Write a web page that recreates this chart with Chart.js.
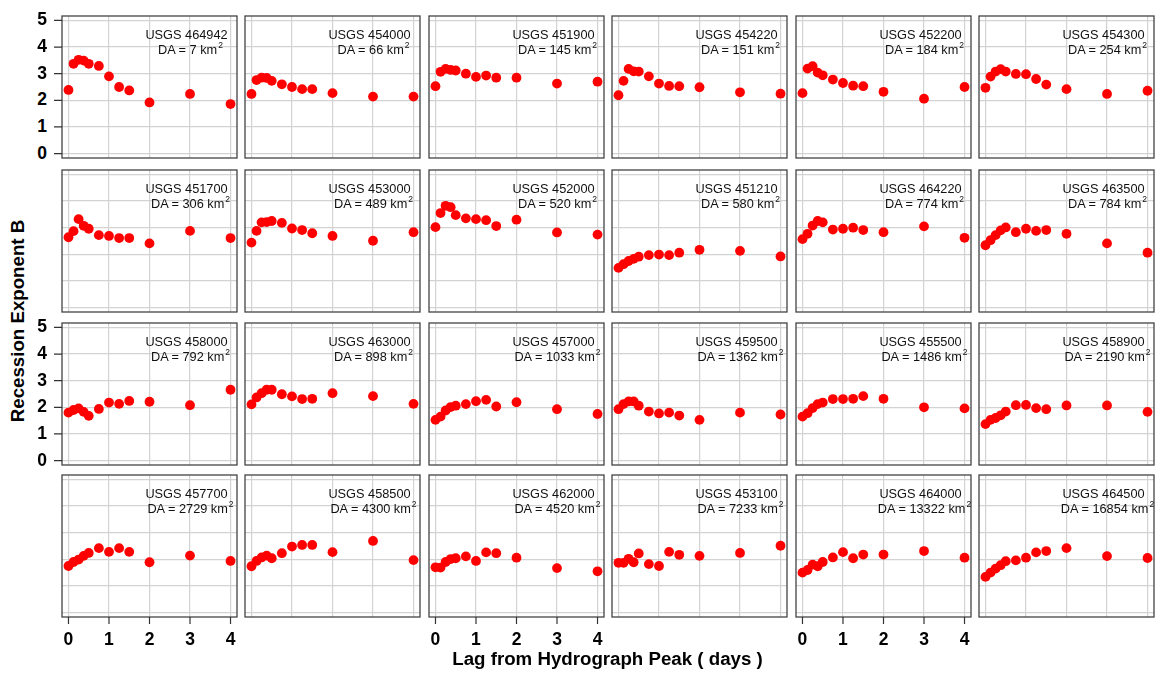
<!DOCTYPE html>
<html>
<head>
<meta charset="utf-8">
<script src="https://cdn.jsdelivr.net/npm/chart.js@4.4.1/dist/chart.umd.min.js"></script>
<style>
  html, body { margin: 0; padding: 0; background: #ffffff; }
  #wrap { position: relative; width: 1160px; height: 677px; overflow: hidden;
          font-family: "Liberation Sans", Arial, Helvetica, sans-serif; }
  #wrap canvas { position: absolute; }
  .lbl { position: absolute; white-space: nowrap; line-height: 1; }
  .tick { font-weight: bold; font-size: 17.5px; color: #000; }
  .title { font-weight: bold; font-size: 18.7px; color: #000; }
  .note { font-size: 12.75px; color: #111; transform: translateX(-50%); }
  .note .sup { font-size: 8.5px; position: relative; top: -5.5px; margin-left: 1px; }
</style>
</head>
<body>
<div id="wrap"></div>
<script>
// Lag after the hydrograph peak (days) at which the exponent was fitted
const lagDays = [0, 0.125, 0.25, 0.375, 0.5, 0.75, 1, 1.25, 1.5, 2, 3, 4];

// Gauge ids and drainage areas (km2), ordered by drainage area
const gaugeIds = ['464942', '454000', '451900', '454220', '452200', '454300',
                  '451700', '453000', '452000', '451210', '464220', '463500',
                  '458000', '463000', '457000', '459500', '455500', '458900',
                  '457700', '458500', '462000', '453100', '464000', '464500'];
const drainageArea = [7, 66, 145, 151, 184, 254,
                      306, 489, 520, 580, 774, 784,
                      792, 898, 1033, 1362, 1486, 2190,
                      2729, 4300, 4520, 7233, 13322, 16854];

// Recession exponent B at each lag, one array per gauge
const b464942 = [2.39, 3.37, 3.52, 3.49, 3.37, 3.29, 2.90, 2.50, 2.37, 1.92, 2.24, 1.86];
const b454000 = [2.24, 2.76, 2.85, 2.84, 2.73, 2.60, 2.50, 2.42, 2.42, 2.27, 2.14, 2.14];
const b451900 = [2.53, 3.07, 3.18, 3.14, 3.12, 3.00, 2.88, 2.93, 2.85, 2.85, 2.63, 2.70];
const b454220 = [2.19, 2.73, 3.18, 3.09, 3.08, 2.90, 2.63, 2.54, 2.53, 2.49, 2.30, 2.25];
const b452200 = [2.27, 3.19, 3.28, 3.04, 2.94, 2.78, 2.65, 2.55, 2.53, 2.32, 2.06, 2.50];
const b454300 = [2.47, 2.89, 3.08, 3.17, 3.08, 2.99, 2.98, 2.80, 2.59, 2.42, 2.24, 2.36];
const b451700 = [2.64, 2.87, 3.32, 3.07, 2.96, 2.72, 2.69, 2.61, 2.61, 2.41, 2.88, 2.61];
const b453000 = [2.44, 2.88, 3.20, 3.21, 3.25, 3.18, 2.97, 2.91, 2.79, 2.69, 2.51, 2.83];
const b452000 = [3.02, 3.55, 3.82, 3.77, 3.47, 3.35, 3.32, 3.28, 3.06, 3.30, 2.82, 2.74];
const b451210 = [1.49, 1.63, 1.75, 1.83, 1.91, 1.97, 1.99, 1.97, 2.06, 2.17, 2.13, 1.92];
const b464220 = [2.57, 2.77, 3.08, 3.25, 3.20, 2.93, 2.96, 3.00, 2.91, 2.83, 3.05, 2.62];
const b463500 = [2.34, 2.53, 2.72, 2.90, 3.01, 2.83, 2.96, 2.88, 2.91, 2.77, 2.41, 2.06];
const b458000 = [1.80, 1.90, 1.96, 1.83, 1.68, 1.94, 2.18, 2.13, 2.24, 2.21, 2.08, 2.66];
const b463000 = [2.11, 2.37, 2.53, 2.66, 2.66, 2.49, 2.41, 2.31, 2.32, 2.53, 2.42, 2.13];
const b457000 = [1.53, 1.65, 1.88, 2.01, 2.06, 2.12, 2.23, 2.28, 2.03, 2.19, 1.93, 1.75];
const b459500 = [1.93, 2.12, 2.22, 2.22, 2.06, 1.84, 1.77, 1.80, 1.69, 1.53, 1.80, 1.73];
const b455500 = [1.65, 1.78, 1.97, 2.12, 2.18, 2.31, 2.31, 2.32, 2.42, 2.32, 2.00, 1.96];
const b458900 = [1.37, 1.53, 1.60, 1.70, 1.84, 2.08, 2.09, 1.97, 1.93, 2.07, 2.07, 1.83];
const b457700 = [1.75, 1.90, 1.99, 2.13, 2.24, 2.42, 2.28, 2.42, 2.28, 1.89, 2.14, 1.94];
const b458500 = [1.74, 1.94, 2.07, 2.14, 2.04, 2.23, 2.48, 2.54, 2.54, 2.27, 2.69, 1.97];
const b462000 = [1.70, 1.69, 1.90, 2.01, 2.04, 2.11, 1.94, 2.26, 2.23, 2.06, 1.67, 1.55];
const b453100 = [1.87, 1.87, 2.02, 1.89, 2.22, 1.82, 1.75, 2.28, 2.17, 2.13, 2.24, 2.51];
const b464000 = [1.50, 1.60, 1.80, 1.74, 1.90, 2.07, 2.27, 2.04, 2.18, 2.18, 2.31, 2.06];
const b464500 = [1.34, 1.50, 1.65, 1.78, 1.93, 1.96, 2.06, 2.26, 2.31, 2.42, 2.12, 2.05];

const exponentB = [b464942, b454000, b451900, b454220, b452200, b454300,
                   b451700, b453000, b452000, b451210, b464220, b463500,
                   b458000, b463000, b457000, b459500, b455500, b458900,
                   b457700, b458500, b462000, b453100, b464000, b464500];

// Axis ticks
const xTickValues = [0, 1, 2, 3, 4];
const yTickValues = [0, 1, 2, 3, 4, 5];

// Panel grid geometry
const colLeft = [62, 245, 429, 612, 796, 979];
const rowTop = [16, 170, 323, 475];
const boxW = 175, boxH = 142, pad = 10;

const wrap = document.getElementById('wrap');

function addLabel(cls, html, left, top, transform) {
  const d = document.createElement('div');
  d.className = 'lbl ' + cls;
  d.innerHTML = html;
  d.style.left = left + 'px';
  d.style.top = top + 'px';
  if (transform) d.style.transform = transform;
  wrap.appendChild(d);
  return d;
}

// Frame, tick marks drawn around each panel's plotting area
const panelFrame = {
  id: 'panelFrame',
  afterDraw(chart, args, opts) {
    const { ctx, chartArea: a, scales } = chart;
    ctx.save();
    ctx.strokeStyle = '#444444';
    ctx.lineWidth = 1.3;
    ctx.strokeRect(a.left, a.top, a.right - a.left, a.bottom - a.top);
    ctx.strokeStyle = '#333333';
    ctx.lineWidth = 1.2;
    ctx.beginPath();
    if (opts.yTicks) {
      yTickValues.forEach(v => {
        const p = scales.y.getPixelForValue(v);
        ctx.moveTo(a.left - 8, p);
        ctx.lineTo(a.left, p);
      });
    }
    if (opts.xTicks) {
      xTickValues.forEach(v => {
        const p = scales.x.getPixelForValue(v);
        ctx.moveTo(p, a.bottom);
        ctx.lineTo(p, a.bottom + 7);
      });
    }
    ctx.stroke();
    ctx.restore();
  }
};

gaugeIds.forEach((id, i) => {
  const r = Math.floor(i / 6), c = i % 6;
  const left = colLeft[c] - pad, top = rowTop[r] - pad;
  const cv = document.createElement('canvas');
  cv.width = boxW + 2 * pad;
  cv.height = boxH + 2 * pad;
  cv.style.left = left + 'px';
  cv.style.top = top + 'px';
  cv.style.width = cv.width + 'px';
  cv.style.height = cv.height + 'px';
  wrap.appendChild(cv);

  const showY = c === 0 && (r === 0 || r === 2);
  const showX = r === 3 && (c % 2 === 0);

  const chart = new Chart(cv, {
    type: 'scatter',
    data: {
      datasets: [{
        data: lagDays.map((x, k) => ({ x: x, y: exponentB[i][k] })),
        backgroundColor: '#ff0000',
        borderWidth: 0,
        pointRadius: 4.9,
        pointHoverRadius: 4.9
      }]
    },
    options: {
      responsive: false,
      animation: false,
      events: [],
      layout: { padding: pad },
      plugins: {
        legend: { display: false },
        tooltip: { enabled: false },
        panelFrame: { yTicks: showY, xTicks: showX }
      },
      scales: {
        x: {
          type: 'linear', min: -0.16, max: 4.16,
          afterBuildTicks: s => { s.ticks = xTickValues.map(v => ({ value: v })); },
          ticks: { display: false },
          grid: { color: '#d3d3d3', lineWidth: 1.2, drawTicks: false },
          border: { display: false }
        },
        y: {
          type: 'linear', min: -0.165, max: 5.165,
          afterBuildTicks: s => { s.ticks = yTickValues.map(v => ({ value: v })); },
          ticks: { display: false },
          grid: { color: '#d3d3d3', lineWidth: 1.2, drawTicks: false },
          border: { display: false }
        }
      }
    },
    plugins: [panelFrame]
  });

  const a = chart.chartArea;
  const boxRight = left + a.right;
  addLabel('note', 'USGS ' + id, boxRight - 50.5, top + a.top + 19 - 6.2);
  addLabel('note', 'DA = ' + drainageArea[i] + ' km<span class="sup">2</span>',
           boxRight - 46.5, top + a.top + 34 - 6.2);

  if (showY) {
    yTickValues.forEach(v => {
      addLabel('tick', String(v), left + a.left - 15, top + chart.scales.y.getPixelForValue(v),
               'translate(-100%, -50%)');
    });
  }
  if (showX) {
    xTickValues.forEach(v => {
      addLabel('tick', String(v), left + chart.scales.x.getPixelForValue(v), top + a.bottom + 23,
               'translate(-50%, -50%)');
    });
  }
});

// Axis titles
addLabel('title', 'Lag from Hydrograph Peak ( days )', 607.5, 659, 'translate(-50%, -50%)');
addLabel('title', 'Recession Exponent B', 18.3, 321, 'translate(-50%, -50%) rotate(-90deg)');
</script>
</body>
</html>
